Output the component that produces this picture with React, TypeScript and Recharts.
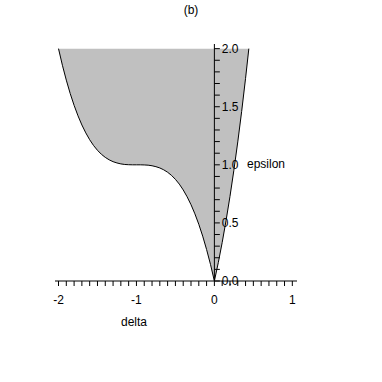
import React from 'react';
import { ComposedChart, Area, Line, XAxis, YAxis, ReferenceLine } from 'recharts';

// delta values along the boundary curve
const deltaValues = [
  -2.0, -1.95, -1.9, -1.85, -1.8, -1.75, -1.7, -1.65, -1.6, -1.55, -1.5, -1.45, -1.4, -1.35, -1.3,
  -1.25, -1.2, -1.15, -1.1, -1.05, -1.0, -0.95, -0.9, -0.85, -0.8, -0.75, -0.7, -0.65, -0.6, -0.55,
  -0.5, -0.45, -0.4, -0.35, -0.3, -0.25, -0.2, -0.15, -0.1, -0.05, 0.0,
  0.05, 0.1, 0.15, 0.2, 0.25, 0.3, 0.35, 0.4, 0.442,
];
// lower boundary of the shaded region (epsilon)
const lowerEpsilon = [
  2.0, 1.857, 1.729, 1.614, 1.512, 1.422, 1.343, 1.275, 1.216, 1.166, 1.125, 1.091, 1.064, 1.043, 1.027,
  1.016, 1.008, 1.003, 1.001, 1.0, 1.0, 1.0, 0.999, 0.997, 0.992, 0.984, 0.973, 0.957, 0.936, 0.909,
  0.875, 0.834, 0.784, 0.725, 0.657, 0.578, 0.488, 0.386, 0.271, 0.143, 0.0,
  0.158, 0.331, 0.521, 0.728, 0.953, 1.197, 1.46, 1.744, 2.0,
];
const upperEpsilon = 2.0;

const xTicks = [
  -2, -1.9, -1.8, -1.7, -1.6, -1.5, -1.4, -1.3, -1.2, -1.1, -1, -0.9, -0.8, -0.7, -0.6, -0.5, -0.4,
  -0.3, -0.2, -0.1, 0, 0.1, 0.2, 0.3, 0.4, 0.5, 0.6, 0.7, 0.8, 0.9, 1,
];
const xTickLabels: Record<string, string> = { '-2': '-2', '-1': '-1', '0': '0', '1': '1' };
const yTicks = [
  0, 0.1, 0.2, 0.3, 0.4, 0.5, 0.6, 0.7, 0.8, 0.9, 1.0, 1.1, 1.2, 1.3, 1.4, 1.5, 1.6, 1.7, 1.8, 1.9, 2.0,
];
const yTickLabels: Record<string, string> = { '0': '0.0', '0.5': '0.5', '1': '1.0', '1.5': '1.5', '2': '2.0' };

const title = '(b)';
const xTitle = 'delta';
const yTitle = 'epsilon';

const FONT = '"Liberation Sans", Arial, sans-serif';

const rows = deltaValues.map((d, i) => ({
  delta: d,
  low: lowerEpsilon[i],
  band: [lowerEpsilon[i], upperEpsilon],
}));

export default function App() {
  return (
    <div style={{ position: 'absolute', left: 0, top: 0, width: 382, height: 382, background: '#fff' }}>
      <ComposedChart
        width={382}
        height={382}
        data={rows}
        margin={{ top: 44, right: 85, bottom: 71, left: 55 }}
        style={{ fontFamily: FONT }}
      >
        <XAxis
          dataKey="delta"
          type="number"
          domain={[-2.045, 1.06]}
          allowDataOverflow
          ticks={xTicks}
          interval={0}
          height={30}
          tickSize={5}
          tickMargin={9}
          stroke="#000"
          axisLine={{ stroke: '#000' }}
          tickLine={{ stroke: '#000' }}
          tick={{ fill: '#000', fontSize: 12, fontFamily: FONT }}
          tickFormatter={(v: number) => xTickLabels[String(Math.round(v * 10) / 10)] ?? ''}
        />
        <YAxis type="number" domain={[0, 2.04]} allowDataOverflow hide width={0} />
        <Area
          dataKey="band"
          type="linear"
          fill="#c0c0c0"
          fillOpacity={1}
          stroke="none"
          isAnimationActive={false}
        />
        <Line
          dataKey="low"
          type="linear"
          stroke="#000"
          strokeWidth={1}
          dot={false}
          isAnimationActive={false}
        />
        <ReferenceLine x={0} stroke="#000" strokeWidth={1} />
        {yTicks.map((t) => (
          <ReferenceLine
            key={t}
            segment={[
              { x: 0, y: t },
              { x: 0.07, y: t },
            ]}
            stroke="#000"
            strokeWidth={1}
            label={
              yTickLabels[String(t)]
                ? {
                    value: yTickLabels[String(t)],
                    position: 'right',
                    offset: 2,
                    fill: '#000',
                    fontSize: 12,
                    fontFamily: FONT,
                  }
                : undefined
            }
          />
        ))}
      </ComposedChart>
      <svg
        width={382}
        height={382}
        style={{ position: 'absolute', left: 0, top: 0, pointerEvents: 'none' }}
      >
        <text x={191} y={14} textAnchor="middle" fontSize={12} fontFamily={FONT} fill="#000">
          {title}
        </text>
        <text x={247} y={168} textAnchor="start" fontSize={12} fontFamily={FONT} fill="#000">
          {yTitle}
        </text>
        <text x={121} y={326} textAnchor="start" fontSize={12} fontFamily={FONT} fill="#000">
          {xTitle}
        </text>
      </svg>
    </div>
  );
}
